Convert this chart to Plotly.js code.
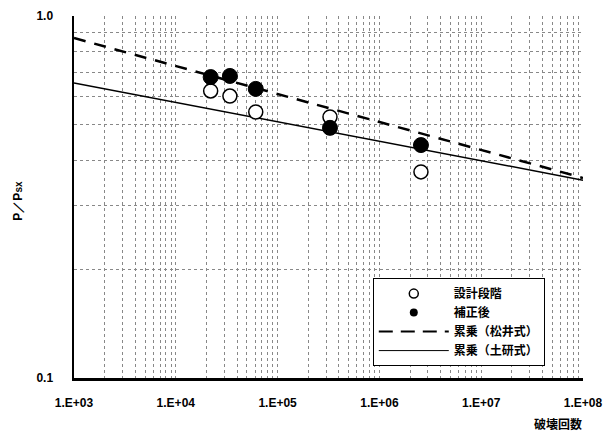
<!DOCTYPE html>
<html><head><meta charset="utf-8">
<script src="https://cdn.plot.ly/plotly-3.0.1.min.js"></script>
<style>html,body{margin:0;padding:0;background:#fff}#c{width:614px;height:431px}</style>
</head><body><div id="c"></div>
<script>
// Data
const cycles = [22000, 34000, 61000, 327000, 2560000];
const designStage = [0.621, 0.601, 0.543, 0.526, 0.371];   // 設計段階
const corrected   = [0.678, 0.683, 0.629, 0.491, 0.440];   // 補正後
const lineX = [1e3, 1e8];
const powerMatsui = [0.869, 0.357];   // 累乗（松井式）
const powerDoken  = [0.653, 0.352];   // 累乗（土研式）
const majorX = [1e3, 1e4, 1e5, 1e6, 1e7, 1e8];
const majorXLabels = ["1.E+03", "1.E+04", "1.E+05", "1.E+06", "1.E+07", "1.E+08"];
const yLabels = {0.1: "0.1", 1: "1.0"};
const names = ["設計段階", "補正後", "累乗（松井式）", "累乗（土研式）"];

const xt = [], xl = [];
for (let d = 3; d <= 8; d++) {
  for (let m = 1; m <= 9; m++) {
    if (d === 8 && m > 1) break;
    const v = m * Math.pow(10, d);
    xt.push(v); xl.push(m === 1 ? majorXLabels[d - 3] : "");
  }
}
const yt = [], yl = [];
for (let m = 1; m <= 10; m++) { const v = m / 10; yt.push(v); yl.push(yLabels[v] || ""); }

const font = {family: "Liberation Sans, Arial, sans-serif", size: 12, color: "#000", weight: "bold"};
const cjk = {family: "Noto Sans CJK JP, sans-serif", size: 12, color: "#000", weight: "bold"};

const traces = [
  {x: lineX, y: powerMatsui, mode: "lines", name: names[2], showlegend: false,
   line: {color: "#000", width: 2.5, dash: "12px,9px"}},
  {x: lineX, y: powerDoken, mode: "lines", name: names[3], showlegend: false,
   line: {color: "#000", width: 1.5}},
  {x: cycles, y: designStage, mode: "markers", name: names[0], showlegend: false,
   marker: {symbol: "circle", size: 14, color: "#fff", line: {color: "#000", width: 1.5}}},
  {x: cycles, y: corrected, mode: "markers", name: names[1], showlegend: false,
   marker: {symbol: "circle", size: 15, color: "#000", line: {color: "#000", width: 1}}},
  // legend entries (smaller symbols as in the reference)
  {x: [null], y: [null], mode: "markers", name: names[0], legendrank: 1,
   marker: {symbol: "circle", size: 9, color: "#fff", line: {color: "#000", width: 1.5}}},
  {x: [null], y: [null], mode: "markers", name: names[1], legendrank: 2,
   marker: {symbol: "circle", size: 8, color: "#000"}},
  {x: [null], y: [null], mode: "lines", name: names[2], legendrank: 3,
   line: {color: "#000", width: 2, dash: "14px,8px"}},
  {x: [null], y: [null], mode: "lines", name: names[3], legendrank: 4,
   line: {color: "#000", width: 1}}
];

const layout = {
  width: 614, height: 431,
  margin: {l: 74, r: 31, t: 16, b: 53},
  paper_bgcolor: "#fff", plot_bgcolor: "#fff",
  font: font,
  showlegend: true,
  legend: {x: 0.587, y: 0.276, xanchor: "left", yanchor: "top",
    bgcolor: "#fff", bordercolor: "#000", borderwidth: 1, font: cjk,
    itemwidth: 70, tracegroupgap: 0},
  xaxis: {type: "log", range: [3, 8], tickmode: "array", tickvals: xt, ticktext: xl,
    showgrid: true, gridcolor: "#888", gridwidth: 1, griddash: "dot",
    showline: true, linecolor: "#000", linewidth: 2.5, zeroline: false,
    ticks: "", tickfont: font, ticklabelstandoff: 12},
  yaxis: {type: "log", range: [-1, 0], tickmode: "array", tickvals: yt, ticktext: yl,
    showgrid: true, gridcolor: "#888", gridwidth: 1, griddash: "dot",
    showline: true, linecolor: "#000", linewidth: 2.5, zeroline: false,
    ticks: "", tickfont: font, ticklabelstandoff: 16},
  annotations: [
    {text: "破壊回数", xref: "paper", yref: "paper", x: 0.951, y: -0.125,
     xanchor: "center", yanchor: "middle", showarrow: false, font: cjk},
    {text: "P／P<span style='font-size:10px'>sx</span>", xref: "paper", yref: "paper",
     x: -0.11, y: 0.49, xanchor: "center", yanchor: "middle", textangle: -90,
     showarrow: false, font: font}
  ]
};
Plotly.newPlot("c", traces, layout, {staticPlot: true, displayModeBar: false});
</script></body></html>
